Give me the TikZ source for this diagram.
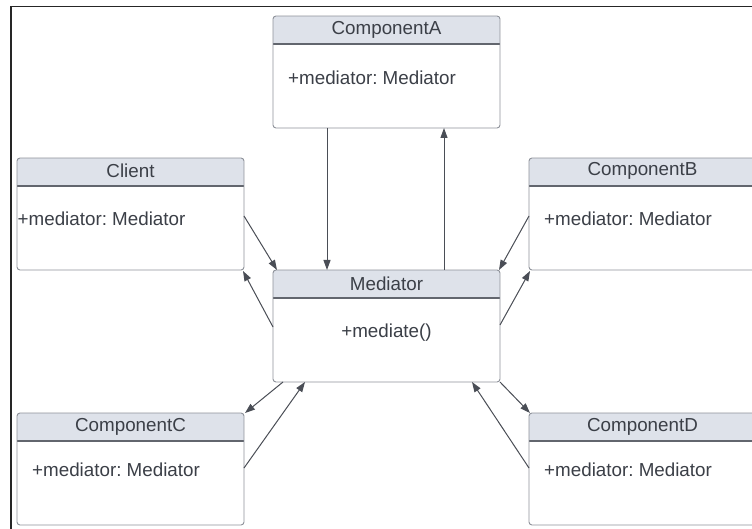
\documentclass[tikz,border=0pt]{standalone}
\usepackage{fontspec}
\setmainfont{Liberation Sans}
\frenchspacing
\usetikzlibrary{arrows.meta,calc}
\definecolor{hdrfill}{HTML}{DEE2EA}
\definecolor{boxline}{HTML}{8E929A}
\definecolor{sepline}{HTML}{62666E}
\definecolor{txt}{HTML}{3B3F47}
\definecolor{wire}{HTML}{4A4E56}
\tikzset{
  classbox/.style={rectangle, minimum width=227pt, minimum height=112pt, inner sep=0pt, outer sep=0pt},
  outline/.style={draw=boxline, line width=0.9pt, rounded corners=3pt},
  sepstyle/.style={draw=sepline, line width=1.4pt},
  classtitle/.style={font=\fontsize{18.8pt}{22pt}\selectfont, text=txt, inner sep=0pt},
  classmember/.style={classtitle},
  link/.style={draw=wire, line width=1pt, -{Triangle[length=10pt,width=7pt]}},
  frameline/.style={draw=black!85, line width=1.8pt}
}
% header band, separator and outline of a class box
\newcommand{\classframe}[1]{%
  \begin{scope}
    \clip[rounded corners=3pt] (#1.north west) rectangle (#1.south east);
    \fill[hdrfill] (#1.north west) rectangle ($(#1.north east)+(0,28)$);
  \end{scope}
  \draw[sepstyle] ($(#1.north west)+(0,28)$) -- ($(#1.north east)+(0,28)$);
  \draw[outline] (#1.north west) rectangle (#1.south east);
}
\begin{document}
\begin{tikzpicture}[x=1pt, y=-1pt]
  \useasboundingbox (0,0) rectangle (752,529);
  \fill[white] (0,0) rectangle (752,529);

  % class boxes
  \node[classbox] (compA) at (386.5,72) {};
  \node[classbox] (client) at (130.5,214) {};
  \node[classbox] (compB) at (642.5,214) {};
  \node[classbox] (mediator) at (386.5,326) {};
  \node[classbox] (compC) at (130.5,469) {};
  \node[classbox] (compD) at (642.5,469) {};
  \classframe{compA}
  \classframe{client}
  \classframe{compB}
  \classframe{mediator}
  \classframe{compC}
  \classframe{compD}

  % class names
  \node[classtitle] (compAname) at ($(compA.north)+(0,13.5)$) {ComponentA};
  \node[classtitle] (clientname) at ($(client.north)+(0,12.5)$) {Client};
  \node[classtitle] (compBname) at ($(compB.north)+(0,12.5)$) {ComponentB};
  \node[classtitle] (mediatorname) at ($(mediator.north)+(0,13.5)$) {Mediator};
  \node[classtitle] (compCname) at ($(compC.north)+(0,14)$) {ComponentC};
  \node[classtitle] (compDname) at ($(compD.north)+(0,14)$) {ComponentD};

  % members
  \node[classmember, anchor=west] (compAattr) at ($(compA.north west)+(15,62)$) {+mediator: Mediator};
  \node[classmember, anchor=west] (clientattr) at ($(client.north west)+(0.5,61)$) {+mediator: Mediator};
  \node[classmember, anchor=west] (compBattr) at ($(compB.north west)+(15,61)$) {+mediator: Mediator};
  \node[classmember] (mediatorop) at ($(mediator.north)+(0,63)$) {+mediate()};
  \node[classmember, anchor=west] (compCattr) at ($(compC.north west)+(15,57)$) {+mediator: Mediator};
  \node[classmember, anchor=west] (compDattr) at ($(compD.north west)+(15,57)$) {+mediator: Mediator};

  % connectors
  \draw[link] ($(compA.south west)+(54,0)$) -- ($(mediator.north west)+(54,0)$);
  \draw[link] ($(mediator.north west)+(171,0)$) -- ($(compA.south west)+(171,0)$);
  \draw[link] ($(client.north east)+(0,58)$) -- ($(mediator.north west)+(4,0)$);
  \draw[link] ($(mediator.north west)+(0,57)$) -- ($(client.south east)+(-1,1)$);
  \draw[link] ($(compB.north west)+(0,58)$) -- ($(mediator.north east)+(-1,0)$);
  \draw[link] ($(mediator.north east)+(0,55)$) -- ($(compB.south west)+(1,1)$);
  \draw[link] ($(mediator.south west)+(10,0)$) -- ($(compC.north east)+(1,0)$);
  \draw[link] ($(compC.north east)+(0,55)$) -- ($(mediator.south west)+(32,0)$);
  \draw[link] (mediator.south east) -- ($(compD.north west)+(1,0)$);
  \draw[link] ($(compD.north west)+(0,55)$) -- ($(mediator.south west)+(199,0)$);

  % outer frame
  \draw[frameline] (752,6.5) -- (11,6.5) -- (11,529);
\end{tikzpicture}
\end{document}
